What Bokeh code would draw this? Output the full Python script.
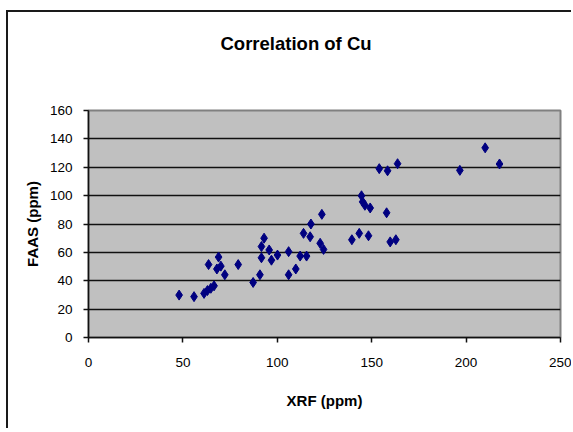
from bokeh.plotting import figure
from bokeh.models import Range1d, FixedTicker, Title
from bokeh.embed import file_html
from bokeh.resources import INLINE

# Data
xrf_ppm = [48.0, 55.9, 61.2, 63.0, 64.8, 66.5, 63.6, 68.9, 68.0, 70.1, 72.2, 79.3,
           87.2, 90.8, 91.6, 93.0, 91.6, 95.7, 96.9, 100.1, 106.0, 106.0, 109.8,
           112.1, 115.5, 113.9, 117.4, 117.8, 123.6, 122.7, 124.5,
           139.5, 143.4, 148.3, 144.6, 145.2, 146.4, 149.2, 157.9, 159.8, 162.8,
           154.0, 158.4, 163.7, 196.7, 210.1, 217.7]
faas_ppm = [29.9, 28.8, 31.1, 33.1, 34.7, 36.4, 51.4, 56.7, 48.3, 50.3, 44.2, 51.4,
            38.8, 44.2, 64.1, 70.0, 56.2, 61.7, 54.5, 58.1, 60.5, 44.2, 48.3,
            57.4, 57.4, 73.4, 71.0, 80.0, 86.8, 66.4, 62.1,
            68.9, 73.4, 71.7, 99.9, 95.6, 93.2, 91.3, 87.9, 67.4, 68.9,
            119.0, 117.5, 122.5, 117.8, 133.7, 122.3]
x_ticks = [0, 50, 100, 150, 200, 250]
y_ticks = [0, 20, 40, 60, 80, 100, 120, 140, 160]
title_text = "Correlation of Cu"
x_label = "XRF (ppm)"
y_label = "FAAS (ppm)"

FONT = "Liberation Sans"

p = figure(width=565, height=418, output_backend="svg", toolbar_location=None,
           x_range=Range1d(0, 250), y_range=Range1d(0, 160),
           min_border_left=80, min_border_right=13, min_border_top=98,
           min_border_bottom=93, title=None)
p.styles = {"margin-left": "6px", "margin-top": "10px",
            "border-left": "2px solid #1a1a1a", "border-top": "2px solid #1a1a1a"}

p.background_fill_color = "#c0c0c0"
p.border_fill_color = "white"
p.outline_line_color = "#808080"
p.outline_line_width = 2

p.xaxis.ticker = FixedTicker(ticks=x_ticks)
p.yaxis.ticker = FixedTicker(ticks=y_ticks)
p.xgrid.grid_line_color = None
p.ygrid.grid_line_color = "#111111"
p.ygrid.grid_line_width = 1.5

for ax in (p.xaxis, p.yaxis):
    ax.axis_line_color = "#111111"
    ax.axis_line_width = 1.5
    ax.major_tick_line_color = "#111111"
    ax.major_tick_line_width = 1.5
    ax.major_tick_in = 0
    ax.major_tick_out = 5
    ax.minor_tick_line_color = None
    ax.major_label_text_font = FONT
    ax.major_label_text_font_size = "13.5px"
    ax.major_label_text_color = "black"
    ax.axis_label_text_font = FONT
    ax.axis_label_text_font_size = "15px"
    ax.axis_label_text_font_style = "bold"
    ax.axis_label_text_color = "black"

p.xaxis.axis_label = x_label
p.yaxis.axis_label = y_label
p.xaxis.major_label_standoff = 15
p.xaxis.axis_label_standoff = 22
p.yaxis.major_label_standoff = 11
p.yaxis.axis_label_standoff = 6

p.scatter(xrf_ppm, faas_ppm, marker="diamond", size=10,
          fill_color="#000080", line_color="#000080", line_width=1)

# blank spacer between the frame and the title
p.add_layout(Title(text=" ", text_font_size="1px", standoff=54,
                   text_color="white"), "above")
p.add_layout(Title(text=title_text, align="left", offset=132, standoff=0,
                   text_font=FONT, text_font_size="18.5px",
                   text_font_style="bold", text_color="black"), "above")

open("out.html", "w").write(file_html(p, INLINE))
